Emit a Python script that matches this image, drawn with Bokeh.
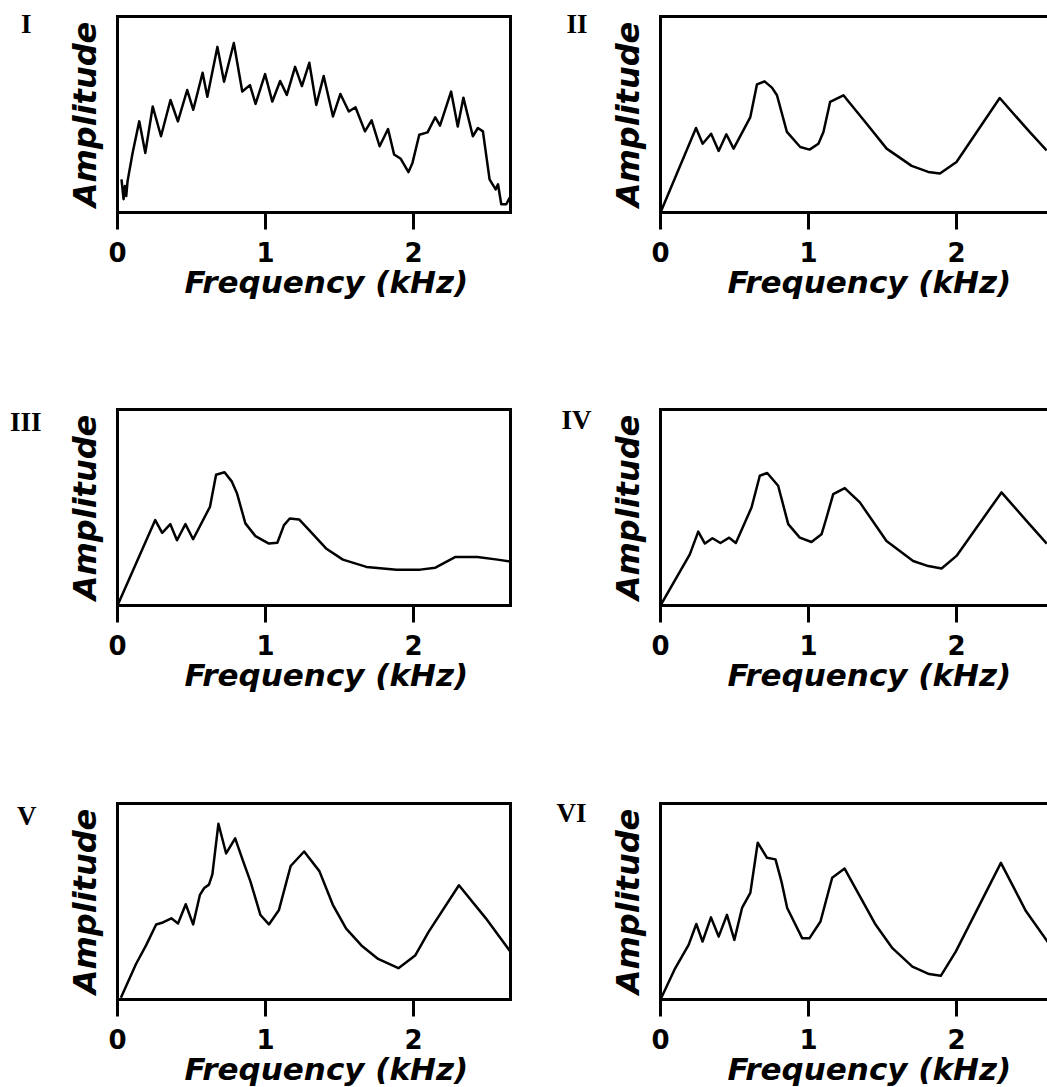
from bokeh.plotting import figure
from bokeh.models import LinearAxis, FixedTicker, Range1d, Title
from bokeh.layouts import column, row
from bokeh.embed import file_html
from bokeh.resources import INLINE

# ---------------- data ----------------
tick_values = [0, 1, 2]
x_title = "Frequency (kHz)"
y_title = "Amplitude"
panel_names = ["I", "II", "III", "IV", "V", "VI"]

freq_I = [0.027, 0.041, 0.050, 0.059, 0.068, 0.102, 0.147, 0.188, 0.238, 0.294, 0.358, 0.408,
          0.471, 0.512, 0.575, 0.607, 0.675, 0.720, 0.786, 0.843, 0.895, 0.933, 0.997, 1.046,
          1.099, 1.144, 1.200, 1.246, 1.296, 1.343, 1.393, 1.456, 1.506, 1.563, 1.608, 1.672,
          1.717, 1.771, 1.828, 1.869, 1.914, 1.966, 1.993, 2.039, 2.095, 2.147, 2.179, 2.254,
          2.299, 2.337, 2.401, 2.435, 2.469, 2.514, 2.555, 2.571, 2.593, 2.627, 2.650]
amp_I = [0.169, 0.068, 0.135, 0.084, 0.160, 0.304, 0.465, 0.304, 0.541, 0.389, 0.574, 0.465,
         0.625, 0.524, 0.713, 0.591, 0.845, 0.667, 0.865, 0.617, 0.650, 0.554, 0.706, 0.566,
         0.671, 0.600, 0.743, 0.645, 0.764, 0.549, 0.696, 0.490, 0.605, 0.515, 0.537, 0.414,
         0.470, 0.338, 0.426, 0.296, 0.274, 0.206, 0.253, 0.397, 0.409, 0.486, 0.443, 0.617,
         0.439, 0.586, 0.389, 0.431, 0.414, 0.169, 0.118, 0.144, 0.042, 0.042, 0.076]

freq_II = [0.0, 0.240, 0.285, 0.342, 0.393, 0.445, 0.494, 0.607, 0.652, 0.703, 0.753, 0.787,
           0.854, 0.944, 1.007, 1.067, 1.101, 1.146, 1.236, 1.393, 1.528, 1.697, 1.809, 1.888,
           2.000, 2.292, 2.494, 2.609]
amp_II = [0.0, 0.431, 0.351, 0.402, 0.314, 0.399, 0.326, 0.487, 0.654, 0.669, 0.637, 0.598,
          0.411, 0.334, 0.321, 0.351, 0.411, 0.564, 0.598, 0.453, 0.326, 0.238, 0.207, 0.199,
          0.258, 0.584, 0.411, 0.317]

freq_III = [0.0, 0.255, 0.302, 0.357, 0.402, 0.459, 0.511, 0.625, 0.666, 0.723, 0.773, 0.807,
            0.864, 0.932, 1.023, 1.080, 1.125, 1.164, 1.227, 1.295, 1.409, 1.523, 1.682, 1.886,
            2.045, 2.148, 2.284, 2.432, 2.568, 2.670]
amp_III = [0.0, 0.436, 0.371, 0.415, 0.333, 0.415, 0.338, 0.504, 0.667, 0.680, 0.632, 0.573,
           0.419, 0.354, 0.316, 0.320, 0.410, 0.444, 0.439, 0.385, 0.291, 0.234, 0.197, 0.183,
           0.183, 0.193, 0.248, 0.248, 0.234, 0.222]

freq_IV = [0.0, 0.198, 0.255, 0.300, 0.351, 0.405, 0.464, 0.509, 0.615, 0.671, 0.721, 0.795,
           0.863, 0.941, 1.020, 1.088, 1.122, 1.167, 1.245, 1.347, 1.527, 1.707, 1.809, 1.899,
           2.000, 2.304, 2.473, 2.610]
amp_IV = [0.0, 0.261, 0.377, 0.316, 0.343, 0.319, 0.346, 0.319, 0.500, 0.662, 0.676, 0.611,
          0.415, 0.346, 0.324, 0.363, 0.449, 0.568, 0.599, 0.526, 0.329, 0.227, 0.201, 0.189,
          0.253, 0.577, 0.432, 0.316]

freq_V = [0.023, 0.125, 0.193, 0.261, 0.307, 0.364, 0.409, 0.461, 0.511, 0.557, 0.586, 0.618,
          0.641, 0.682, 0.734, 0.795, 0.848, 0.898, 0.966, 1.023, 1.091, 1.170, 1.261, 1.364,
          1.455, 1.545, 1.648, 1.761, 1.898, 2.011, 2.102, 2.307, 2.489, 2.670]
amp_V = [0.009, 0.181, 0.276, 0.383, 0.393, 0.414, 0.388, 0.486, 0.383, 0.534, 0.569, 0.586,
         0.638, 0.897, 0.745, 0.822, 0.707, 0.603, 0.431, 0.383, 0.457, 0.681, 0.755, 0.655,
         0.483, 0.362, 0.276, 0.207, 0.160, 0.224, 0.345, 0.583, 0.414, 0.228]

freq_VI = [0.0, 0.099, 0.190, 0.242, 0.284, 0.341, 0.393, 0.449, 0.499, 0.551, 0.607, 0.657,
           0.720, 0.777, 0.817, 0.856, 0.957, 1.007, 1.081, 1.160, 1.244, 1.341, 1.454, 1.567,
           1.702, 1.815, 1.894, 1.995, 2.300, 2.470, 2.630]
amp_VI = [0.0, 0.159, 0.279, 0.385, 0.296, 0.419, 0.321, 0.432, 0.304, 0.467, 0.544, 0.800,
          0.723, 0.715, 0.603, 0.467, 0.313, 0.313, 0.398, 0.621, 0.668, 0.535, 0.381, 0.262,
          0.168, 0.130, 0.121, 0.244, 0.697, 0.450, 0.279]

series = [(freq_I, amp_I), (freq_II, amp_II), (freq_III, amp_III),
          (freq_IV, amp_IV), (freq_V, amp_V), (freq_VI, amp_VI)]

# ---------------- layout / style ----------------
PX_PER_KHZ = 148.0
FRAME_H = 196
ROW_H = [402, 393, 292]
ROW_TOP = [16, 7, 8]
COL_W = [548, 499]
COL_LEFT = [117, 112]
COL_RIGHT = [38, 0]
# vertical place (in amplitude units) and distance of each panel's numeral
ROMAN_Y = [0.962, 0.964, 0.98, 0.974, 0.99, 0.95]
ROMAN_STANDOFF = [31, 18, 21, 14, 26, 19]
FONT = "DejaVu Sans"


def make_panel(i):
    r, c = divmod(i, 2)
    w, h = COL_W[c], ROW_H[r]
    frame_w = w - COL_LEFT[c] - COL_RIGHT[c]
    xr = Range1d(0, frame_w / PX_PER_KHZ)
    yr = Range1d(0, 1)
    p = figure(width=w, height=h, x_range=xr, y_range=yr,
               output_backend="svg", toolbar_location=None,
               min_border_left=COL_LEFT[c], min_border_right=COL_RIGHT[c],
               min_border_top=ROW_TOP[r], min_border_bottom=h - ROW_TOP[r] - FRAME_H)
    p.grid.visible = False
    p.background_fill_color = "white"
    p.border_fill_color = "white"
    p.outline_line_color = None

    fx, fy = series[i]
    p.line(fx, fy, line_color="black", line_width=2.5, line_join="round")

    # x axis
    xa = p.xaxis[0]
    xa.ticker = FixedTicker(ticks=tick_values)
    xa.minor_tick_line_color = None
    xa.major_tick_out = 17
    xa.major_tick_in = 0
    xa.major_tick_line_width = 3
    xa.major_tick_line_color = "black"
    xa.axis_line_width = 3
    xa.axis_line_cap = "square"
    xa.major_label_standoff = 12
    xa.major_label_text_font = FONT
    xa.major_label_text_font_style = "bold"
    xa.major_label_text_font_size = "26px"
    xa.major_label_text_color = "black"

    # y axis (Amplitude)
    ya = p.yaxis[0]
    ya.ticker = FixedTicker(ticks=[])
    ya.minor_tick_line_color = None
    ya.major_tick_out = 0
    ya.major_tick_in = 0
    ya.major_label_standoff = 0
    ya.axis_line_width = 3
    ya.axis_line_cap = "square"
    ya.axis_label = y_title
    ya.axis_label_standoff = 14
    ya.axis_label_text_font = FONT
    ya.axis_label_text_font_style = "bold italic"
    ya.axis_label_text_font_size = "32px"
    ya.axis_label_text_color = "black"

    # frame sides without ticks
    sides = ["above", "right"] if c == 0 else ["above"]
    for side in sides:
        ax = LinearAxis(ticker=FixedTicker(ticks=[]), major_tick_out=0, major_tick_in=0,
                        minor_tick_out=0, minor_tick_in=0, major_label_standoff=0,
                        major_label_text_font_size="0px", axis_line_width=3,
                        axis_line_cap="square")
        p.add_layout(ax, side)

    # panel numeral as a single tick label at the top-left
    ry = ROMAN_Y[i]
    rax = LinearAxis(ticker=FixedTicker(ticks=[ry]),
                     major_label_overrides={ry: panel_names[i]},
                     major_tick_out=0, major_tick_in=0, minor_tick_out=0, minor_tick_in=0,
                     major_tick_line_color=None, minor_tick_line_color=None,
                     axis_line_color=None, major_label_standoff=ROMAN_STANDOFF[i],
                     major_label_text_font="Liberation Serif",
                     major_label_text_font_style="bold",
                     major_label_text_font_size="27px",
                     major_label_text_color="black")
    p.add_layout(rax, "left")

    # x title below the axis, left-aligned like the original
    p.add_layout(Title(text=x_title, align="left", offset=67, standoff=-6,
                       text_font=FONT, text_font_style="bold italic",
                       text_font_size="31px", text_color="black"), "below")
    return p


panels = [make_panel(i) for i in range(6)]
layout = column(row(panels[0], panels[1]), row(panels[2], panels[3]),
                row(panels[4], panels[5]))

open("out.html", "w").write(file_html(layout, INLINE))
